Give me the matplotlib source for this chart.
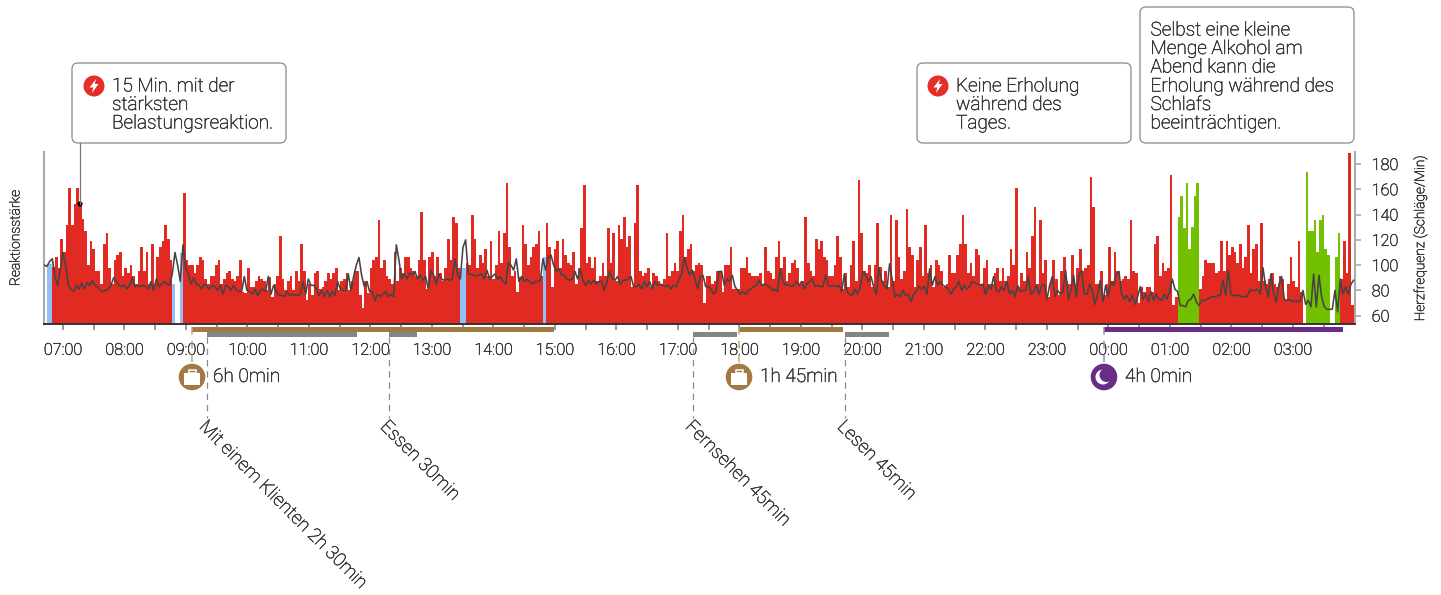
import matplotlib
matplotlib.use("Agg")
import matplotlib.pyplot as plt
import matplotlib.patheffects as pe
from matplotlib.patches import FancyBboxPatch, Circle, Rectangle, Polygon

plt.rcParams['font.family'] = ['Roboto', 'DejaVu Sans']

W, H = 1441, 595
START_HOUR = 6.696
BAR_HOURS = 0.04336

bars_a = [0,60,60,57,67,56,85,72,99,136,99,120,136,120,105,93,59,83,75,53,53,40,80,91,56,40,64,69,72,48,56,51,59,48,40,53,77,53,72,40,80,40,67,77,83,99,85,64,40,0,0,71,131,64,59,59,51,59,67,64,45,40,48,48,59,64,40,45,51,53,45,43,48,64]
bars_b = [32,31,56,37,37,43,48,45,43,34,47,27,40,48,88,45,34,43,48,34,53,43,80,53,24,40,29,51,53,35,37,43,51,45,51,56,34,43,45,51,34,43,53,53,29,16,43,31,56,64,67,104,56,64,48,45,40,72,43,56,51,67,67,56,53,48,64,112,64,35,67,72,48,67,51,43,56,85,64,107,101,56,56,56,61,59,109,85,56,69]
bars_c = [61,75,48,83,45,59,93,61,91,141,77,48,53,32,47,99,80,59,67,77,80,93,48,67,101,77,37,75,83,56,85,69,61,59,72,40,56,96,139,61,67,56,67,43,48,61,48,96,61,91,43,99,85,107,77,88,37,101,139,53,48,51,56,37,51,48,43,40,45,91,48,53,61,53,93,109,67,75,80,53,59,61,59,21,48,48,40,43,53,53]
bars_d = [32,59,59,77,35,35,35,56,56,67,51,48,48,48,51,40,77,53,51,45,67,83,56,67,43,51,61,64,56,40,43,107,61,53,48,85,75,83,67,64,48,48,59,88,67,35,51,37,59,83,43,144,91,53,51,59,37,59,101,57,43,53,37,109,43,104,67,45,53,115,77,69,37,64,77,48,99,51,59,37,64,59,53,37,40,69,51,51,69,80]
bars_e = [109,80,51,61,48,75,69,40,56,64,40,40,51,56,43,56,43,48,75,59,136,37,51,43,72,56,88,117,40,104,51,64,27,43,64,45,29,53,67,43,40,69,40,56,75,53,56,59,147,117,40,40,53,29,40,77,43,72,53,43,45,48,45,104,53,51,21,37,32,37,37,32,80,88,48,61,53,56,149,19,27,107,128,96,141,75,97,128,141,35]
bars_f = [48,64,61,61,61,51,53,83,53,83,69,77,72,61,80,56,67,99,51,75,80,43,101,43,40,45,51,40,37,48,45,24,40,67,43,37,83,32,0,152,93,93,104,72,104,109,75,69,0,0,67,91,45,83,51,171,19]
strength = bars_a + bars_b + bars_c + bars_d + bars_e + bars_f
blue_bars = [1, 2, 48, 51, 156, 157, 187]
green_bars = list(range(425, 433)) + list(range(473, 482)) + [484, 485]

hr_a = [100,99,103,105,91,84,96,110,100,84,81,79,84,81,86,81,86,84,88,84,83,80,79,80,81,84,90,87,84,83,84,81,84,90,83,84,83,84,83,81,87,80,89,83,85,87,85,84,93,110,100,87,116,98,93,85,90,85,84,81,85,83,81,84,83,80,84,77,84,83,80,84,80,79]
hr_b = [79,91,80,79,77,81,76,80,81,79,91,77,84,79,76,76,75,79,76,77,76,76,77,87,77,89,84,84,81,76,80,75,80,75,79,76,87,81,80,80,93,80,91,100,106,92,83,87,79,79,72,77,75,77,79,75,77,75,116,104,89,93,89,94,92,95,89,92,88,91,81,96,92,85,93,89,88,89,88,89,105,92,89,114,120,93,93,92,91,92]
hr_c = [93,89,96,89,91,93,89,91,87,85,102,100,96,105,87,91,87,89,87,85,87,87,88,105,96,106,108,100,95,97,92,92,89,88,89,95,89,97,88,84,88,85,88,85,87,87,80,87,95,89,88,91,85,88,88,89,91,83,83,85,81,87,83,87,81,87,84,85,84,83,84,81,84,83,89,93,106,98,92,96,89,81,91,92,83,83,81,77,80,95]
hr_d = [95,84,89,87,92,83,80,77,79,77,80,81,83,84,88,84,85,84,83,80,81,79,97,87,84,85,83,84,87,84,87,81,85,87,89,83,84,83,83,92,84,83,84,83,84,79,93,79,77,76,81,77,83,95,92,87,91,83,77,98,88,84,81,101,88,75,77,75,80,76,77,71,77,79,83,81,83,77,97,84,91,84,87,84,83,81,77,81,83,87]
hr_e = [80,84,81,83,87,86,85,84,85,77,84,81,91,80,79,83,80,87,77,80,75,84,79,80,80,91,77,79,84,77,84,85,73,84,91,75,80,77,79,96,73,80,92,75,92,96,77,77,85,80,69,77,88,71,84,75,87,84,93,95,77,73,76,71,76,69,75,83,73,77,71,79,72,77,73,72,77,73,79,89,81,79,68,68,67,72,73,77,71,68]
hr_f = [72,72,73,74,75,75,76,76,88,76,96,77,76,76,76,75,75,75,80,80,80,81,77,98,83,75,93,77,71,85,91,73,72,73,71,72,71,72,80,69,72,67,93,67,92,75,67,65,65,65,80,63,89,77,83,77,85,88]
heart_rate = hr_a + hr_b + hr_c + hr_d + hr_e + hr_f
assert len(strength) == 491 and len(heart_rate) == 492

hours = [h / 2 for h in range(14, 56)]
hour_labels = [f"{int(h) % 24:02d}:00" for h in range(7, 28)]
hr_ticks = [60, 80, 100, 120, 140, 160, 180]

RED, BLUE, GREEN = '#e12a21', '#90c0f4', '#72c000'
TXT = '#333333'
BROWN, GREY, PURPLE = '#a07a42', '#858585', '#6a2c86'
INK = [pe.withStroke(linewidth=0.35, foreground=TXT)]

fig = plt.figure(figsize=(W / 100, H / 100), dpi=100)
ax = fig.add_axes([44.3 / W, 1 - 324 / H, (1355 - 44.3) / W, 172 / H])
times = [START_HOUR + i * BAR_HOURS for i in range(len(strength))]
colors = [BLUE if i in blue_bars else GREEN if i in green_bars else RED for i in range(len(strength))]
ax.bar(times, strength, width=BAR_HOURS, align='edge', color=colors, linewidth=0)
xlim = (START_HOUR, START_HOUR + (1355 - 44.3) / 61.5)
ax.set_xlim(*xlim)
ax.set_ylim(0, 172)
ax.set_yticks([])
ax.set_xticks(hours)
ax.set_xticklabels([hour_labels[int(h) - 7] if h == int(h) and int(h) - 7 < len(hour_labels) else '' for h in hours])
ax.tick_params(axis='x', length=4.5, width=1.4, color='#999999', labelcolor=TXT, labelsize=11.7, pad=9)
for lab in ax.get_xticklabels():
    lab.set_fontweight('light')
    lab.set_path_effects(INK)
ax.spines['top'].set_visible(False)
ax.spines['left'].set_color('#aaaaaa')
ax.spines['right'].set_color('#aaaaaa')
ax.spines['left'].set_linewidth(1.5)
ax.spines['right'].set_linewidth(1.5)
ax.spines['bottom'].set_color('#333333')
ax.spines['bottom'].set_linewidth(1.4)

ax2 = ax.twinx()
ax2.set_xlim(*xlim)
ax2.set_ylim(53.4, 189.5)
hr_times = [START_HOUR + i * BAR_HOURS for i in range(len(heart_rate))]
ax2.plot(hr_times, heart_rate, color='#444444', lw=1.15, solid_joinstyle='round')
ax2.set_yticks(hr_ticks)
ax2.tick_params(axis='y', length=4, width=1.2, color='#aaaaaa', labelcolor=TXT, labelsize=11.7, pad=8)
for lab in ax2.get_yticklabels():
    lab.set_fontweight('light')
    lab.set_path_effects(INK)
for s in ax2.spines.values():
    s.set_visible(False)

ov = fig.add_axes([0, 0, 1, 1], zorder=5)
ov.set_xlim(0, W)
ov.set_ylim(H, 0)
ov.axis('off')
ov.patch.set_alpha(0)

ov.text(15.5, 238, 'Reaktionsstärke', rotation=90, ha='center', va='center', fontsize=10, color=TXT, fontweight='light', path_effects=INK)
ov.text(1420, 238, 'Herzfrequenz (Schläge/Min)', rotation=90, ha='center', va='center', fontsize=9.9, color=TXT, fontweight='light', path_effects=INK)

def box(x0, y0, x1, y1):
    ov.add_patch(FancyBboxPatch((x0 + 5, y0 + 5), x1 - x0 - 10, y1 - y0 - 10, boxstyle='round,pad=5,rounding_size=6',
                                fc='white', ec='#8a8a8a', lw=0.9))

def bolt(cx, cy):
    ov.add_patch(Circle((cx, cy), 10.5, fc='#e52e27', ec='none'))
    pts = [(cx + 2, cy - 7), (cx - 4.5, cy + 1.5), (cx - 0.8, cy + 1.5), (cx - 2, cy + 7), (cx + 4.5, cy - 2), (cx + 0.8, cy - 2)]
    ov.add_patch(Polygon(pts, closed=True, fc='white', ec='none'))

FS = 13.7

def lines(x, ys, rows):
    for y, r in zip(ys, rows):
        ov.text(x, y + 0.5, r, ha='left', va='center', fontsize=FS, color=TXT, fontweight='light', path_effects=INK)

ov.plot([80, 80], [143, 204], color='#777777', lw=0.9)
ov.add_patch(Circle((80, 204), 2.6, fc='black', ec='none'))
box(72, 63, 286, 143)
bolt(94, 86)
lines(112, [86, 104.5, 123], ['15 Min. mit der', 'stärksten', 'Belastungsreaktion.'])
box(917, 63, 1131, 143)
bolt(938, 86)
lines(956, [86, 104.5, 123], ['Keine Erholung', 'während des', 'Tages.'])
box(1140, 7, 1354, 143)
lines(1150.5, [30, 48.5, 67, 86, 104.5, 123],
      ['Selbst eine kleine', 'Menge Alkohol am', 'Abend kann die', 'Erholung während des', 'Schlafs', 'beeinträchtigen.'])

work_blocks = [(191.7, 554), (739, 843)]
sleep_blocks = [(1104, 1343)]
other_blocks = [(207, 357), (389, 417), (693, 737), (845, 889)]
for a, b in work_blocks:
    ov.add_patch(Rectangle((a, 326.8), b - a, 5, fc=BROWN, ec='none'))
for a, b in sleep_blocks:
    ov.add_patch(Rectangle((a, 326.8), b - a, 5, fc=PURPLE, ec='none'))
for a, b in other_blocks:
    ov.add_patch(Rectangle((a, 331.8), b - a, 5, fc=GREY, ec='none'))
    ov.plot([a, a], [337, 418], color='#8a8a8a', lw=0.9, ls=(0, (5, 4)))
for a, c in [(191.7, '#c4a67c'), (739, '#c4a67c'), (1104, '#a884b8')]:
    ov.plot([a, a], [327, 364], color=c, lw=1.1, ls=(0, (5, 4)))

def briefcase(cx, cy, color):
    ov.add_patch(Circle((cx, cy), 13.3, fc=color, ec='none'))
    ov.add_patch(Rectangle((cx - 8, cy - 4.5), 16, 12, fc='white', ec='none'))
    ov.add_patch(Rectangle((cx - 3.5, cy - 7), 7, 3.2, fc='none', ec='white', lw=1.1))

briefcase(192, 377, BROWN)
briefcase(739, 377, BROWN)
ov.add_patch(Circle((1104, 377), 13.3, fc=PURPLE, ec='none'))
ov.add_patch(Circle((1103, 377), 7.5, fc='white', ec='none'))
ov.add_patch(Circle((1106.5, 375), 7, fc=PURPLE, ec='none'))
for x, t in [(213, '6h 0min'), (760, '1h 45min'), (1125, '4h 0min')]:
    ov.text(x, 377, t, ha='left', va='center', fontsize=FS, color=TXT, fontweight='light', path_effects=INK)

for x, t in [(202, 'Mit einem Klienten 2h 30min'), (383, 'Essen 30min'), (688, 'Fernsehen 45min'), (840, 'Lesen 45min')]:
    ov.text(x, 424, t, rotation=-45, rotation_mode='anchor', ha='left', va='center', fontsize=13.4, color=TXT, fontweight='light', path_effects=INK)

fig.savefig('out.png', dpi=100)
